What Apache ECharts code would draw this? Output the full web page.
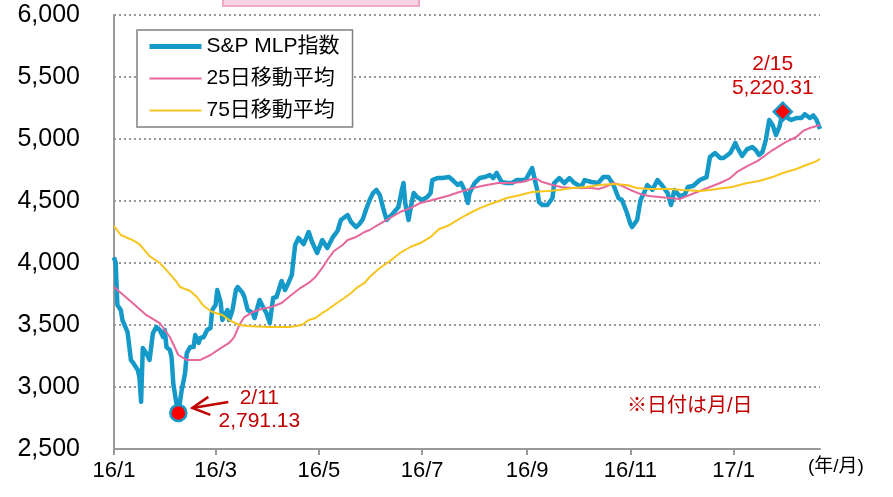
<!DOCTYPE html>
<html>
<head>
<meta charset="utf-8" />
<script type="text/javascript" src="https://cdn.jsdelivr.net/npm/echarts@6/dist/echarts.min.js"></script>
<title></title>
<style>
  html, body { margin: 0; padding: 0; background: #fff; }
  #chartmain { width: 893px; height: 497px; }
</style>
</head>
<body>
<div id="chartmain"></div>
<script type="text/javascript">
// S&P MLP指数 (daily close)
var mlpDates = [
  '2016-01-04','2016-01-05','2016-01-06','2016-01-08','2016-01-09','2016-01-12','2016-01-13','2016-01-14',
  '2016-01-15','2016-01-18','2016-01-19','2016-01-20','2016-01-21','2016-01-23','2016-01-25','2016-01-27',
  '2016-01-29','2016-01-31','2016-02-02','2016-02-03','2016-02-04','2016-02-06','2016-02-07','2016-02-08',
  '2016-02-10','2016-02-11','2016-02-13','2016-02-15','2016-02-16','2016-02-18','2016-02-20','2016-02-21',
  '2016-02-23','2016-02-24','2016-02-26','2016-02-28','2016-03-01','2016-03-02','2016-03-04','2016-03-05',
  '2016-03-07','2016-03-08','2016-03-11','2016-03-12','2016-03-14','2016-03-16','2016-03-17','2016-03-20',
  '2016-03-21','2016-03-23','2016-03-26','2016-03-27','2016-03-28','2016-03-30','2016-04-01','2016-04-03',
  '2016-04-05','2016-04-07','2016-04-09','2016-04-12','2016-04-14','2016-04-16','2016-04-18','2016-04-20',
  '2016-04-22','2016-04-25','2016-04-28','2016-04-30','2016-05-03','2016-05-06','2016-05-09','2016-05-12',
  '2016-05-15','2016-05-17','2016-05-21','2016-05-23','2016-05-26','2016-05-28','2016-05-30','2016-06-01',
  '2016-06-03','2016-06-05','2016-06-07','2016-06-09','2016-06-11','2016-06-13','2016-06-17','2016-06-20',
  '2016-06-22','2016-06-23','2016-06-24','2016-06-26','2016-06-27','2016-06-29','2016-07-01','2016-07-04',
  '2016-07-07','2016-07-09','2016-07-10','2016-07-13','2016-07-16','2016-07-17','2016-07-20','2016-07-22',
  '2016-07-25','2016-07-27','2016-07-29','2016-07-31','2016-08-01','2016-08-04','2016-08-07','2016-08-10',
  '2016-08-13','2016-08-15','2016-08-17','2016-08-20','2016-08-23','2016-08-26','2016-08-29','2016-09-03',
  '2016-09-04','2016-09-07','2016-09-09','2016-09-10','2016-09-11','2016-09-13','2016-09-16','2016-09-19',
  '2016-09-20','2016-09-23','2016-09-26','2016-09-29','2016-10-02','2016-10-06','2016-10-08','2016-10-12',
  '2016-10-16','2016-10-19','2016-10-22','2016-10-25','2016-10-28','2016-10-30','2016-11-02','2016-11-04',
  '2016-11-05','2016-11-08','2016-11-10','2016-11-12','2016-11-14','2016-11-17','2016-11-20','2016-11-23',
  '2016-11-26','2016-11-28','2016-11-30','2016-12-03','2016-12-06','2016-12-08','2016-12-11','2016-12-15',
  '2016-12-19','2016-12-21','2016-12-24','2016-12-27','2016-12-29','2017-01-02','2017-01-05','2017-01-06',
  '2017-01-09','2017-01-12','2017-01-15','2017-01-17','2017-01-19','2017-01-21','2017-01-23','2017-01-25',
  '2017-01-27','2017-01-29','2017-01-31','2017-02-02','2017-02-05','2017-02-07','2017-02-10','2017-02-13',
  '2017-02-15','2017-02-18','2017-02-20','2017-02-22','2017-02-24'
];
var mlpValues = [
  4045, 4000, 3661, 3621, 3540, 3443, 3435, 3218,
  3201, 3137, 3081, 2880, 3314, 3274, 3218, 3435,
  3484, 3460, 3403, 3460, 3322, 3298, 3242, 3032,
  2855, 2791.13, 2976, 3113, 3274, 3322, 3322, 3419,
  3355, 3395, 3403, 3460, 3476, 3621, 3661, 3782,
  3685, 3540, 3621, 3540, 3621, 3782, 3806, 3758,
  3726, 3621, 3597, 3556, 3565, 3702, 3645, 3597,
  3516, 3718, 3726, 3855, 3782, 3839, 3903, 4145,
  4202, 4153, 4250, 4169, 4081, 4185, 4121, 4202,
  4258, 4347, 4387, 4331, 4290, 4315, 4355, 4435,
  4508, 4564, 4589, 4548, 4443, 4347, 4403, 4452,
  4589, 4645, 4484, 4347, 4427, 4564, 4532, 4508,
  4532, 4564, 4669, 4685, 4685, 4693, 4693, 4669,
  4629, 4645, 4589, 4484, 4564, 4645, 4685, 4693,
  4710, 4685, 4726, 4653, 4645, 4645, 4669, 4669,
  4693, 4766, 4645, 4589, 4492, 4468, 4468, 4524,
  4645, 4685, 4645, 4685, 4645, 4613, 4669, 4653,
  4645, 4693, 4693, 4629, 4524, 4508, 4403, 4315,
  4290, 4347, 4508, 4564, 4629, 4589, 4669, 4621,
  4564, 4468, 4589, 4540, 4548, 4613, 4621, 4669,
  4693, 4855, 4887, 4847, 4847, 4887, 4968, 4935,
  4863, 4919, 4935, 4911, 4871, 4895, 4992, 5153,
  5113, 5032, 5097, 5220.31, 5169, 5153, 5169, 5169,
  5200, 5169, 5190, 5153, 5080
];

// 25日移動平均
var ma25Dates = [
  '2016-01-04','2016-01-15','2016-01-23','2016-01-31','2016-02-06','2016-02-11','2016-02-16','2016-02-24',
  '2016-03-01','2016-03-07','2016-03-12','2016-03-15','2016-03-18','2016-03-21','2016-03-26','2016-03-31',
  '2016-04-06','2016-04-12','2016-04-17','2016-04-23','2016-04-28','2016-05-02','2016-05-06','2016-05-09',
  '2016-05-13','2016-05-18','2016-05-21','2016-05-26','2016-05-31','2016-06-03','2016-06-09','2016-06-15',
  '2016-06-21','2016-06-27','2016-07-03','2016-07-10','2016-07-19','2016-07-26','2016-08-03','2016-08-11',
  '2016-08-18','2016-08-26','2016-09-01','2016-09-07','2016-09-10','2016-09-13','2016-09-19','2016-09-24',
  '2016-09-30','2016-10-06','2016-10-12','2016-10-16','2016-10-20','2016-10-25','2016-10-29','2016-11-04',
  '2016-11-10','2016-11-15','2016-11-21','2016-11-27','2016-12-03','2016-12-09','2016-12-15','2016-12-21',
  '2016-12-27','2017-01-02','2017-01-06','2017-01-12','2017-01-18','2017-01-23','2017-01-27','2017-01-29',
  '2017-02-04','2017-02-10','2017-02-14','2017-02-18','2017-02-24'
];
var ma25Values = [
  3806, 3677, 3581, 3516, 3403, 3258, 3218, 3218,
  3258, 3314, 3355, 3403, 3500, 3564, 3605, 3629,
  3645, 3677, 3734, 3798, 3839, 3887, 3960, 4024,
  4097, 4145, 4185, 4210, 4250, 4266, 4315, 4363,
  4411, 4443, 4484, 4508, 4540, 4573, 4605, 4629,
  4645, 4645, 4653, 4677, 4677, 4653, 4629, 4613,
  4605, 4605, 4605, 4597, 4613, 4645, 4629, 4589,
  4556, 4540, 4532, 4524, 4516, 4548, 4581, 4613,
  4645, 4685, 4734, 4782, 4822, 4871, 4911, 4927,
  4976, 5016, 5065, 5089, 5113
];

// 75日移動平均
var ma75Dates = [
  '2016-01-04','2016-01-08','2016-01-15','2016-01-19','2016-01-25','2016-01-31','2016-02-04','2016-02-10',
  '2016-02-12','2016-02-18','2016-02-22','2016-02-26','2016-03-02','2016-03-08','2016-03-12','2016-03-18',
  '2016-03-23','2016-04-04','2016-04-17','2016-04-24','2016-04-28','2016-05-02','2016-05-06','2016-05-09',
  '2016-05-13','2016-05-19','2016-05-23','2016-05-27','2016-05-31','2016-06-03','2016-06-09','2016-06-15',
  '2016-06-21','2016-06-27','2016-07-03','2016-07-09','2016-07-14','2016-07-19','2016-07-25','2016-07-30',
  '2016-08-07','2016-08-15','2016-08-23','2016-08-31','2016-09-07','2016-09-16','2016-09-23','2016-10-01',
  '2016-10-09','2016-10-17','2016-10-25','2016-11-02','2016-11-08','2016-11-15','2016-11-27','2016-12-05',
  '2016-12-15','2016-12-21','2016-12-29','2017-01-03','2017-01-12','2017-01-19','2017-01-27','2017-02-02',
  '2017-02-10','2017-02-16','2017-02-22','2017-02-24'
];
var ma75Values = [
  4298, 4226, 4185, 4153, 4056, 4000, 3943, 3847,
  3806, 3774, 3726, 3653, 3605, 3581, 3540, 3500,
  3492, 3484, 3484, 3500, 3540, 3556, 3597, 3621,
  3661, 3718, 3758, 3806, 3839, 3887, 3960, 4016,
  4081, 4129, 4161, 4210, 4274, 4298, 4347, 4387,
  4443, 4484, 4524, 4548, 4573, 4581, 4589, 4605,
  4613, 4629, 4637, 4629, 4605, 4597, 4597, 4589,
  4581, 4589, 4605, 4613, 4645, 4661, 4693, 4726,
  4758, 4790, 4822, 4839
];

// x axis: labels every two months from the first trading day
var tickDates = ['2016-01-04','2016-03-04','2016-05-04','2016-07-04','2016-09-04','2016-11-04','2017-01-04'];
var axisStart = '2016-01-04', axisEnd = '2017-02-24';
var noteDays = ['2/11', '2/15'];

var FONT = '"Liberation Sans", Arial, "Noto Sans CJK JP", sans-serif';
var BLUE = '#1499c8', PINK = '#e5679b', YELLOW = '#f7c51e', RED = '#c00000';

function ts(s) { return Date.parse(s + 'T00:00:00Z'); }
function pairs(d, v) {
  return d.map(function (x, i) { return [ts(x), v[i]]; });
}
function fmt(v) {
  return v.toLocaleString('en-US', { minimumFractionDigits: 2, maximumFractionDigits: 2 });
}

var iLow = 0, iHigh = 0;
mlpValues.forEach(function (v, i) {
  if (v < mlpValues[iLow]) iLow = i;
  if (v > mlpValues[iHigh]) iHigh = i;
});

// legend shows only the line, no symbol
var noMark = { color: 'rgba(0,0,0,0)', borderColor: 'rgba(0,0,0,0)', borderWidth: 0 };

var option = {
  animation: false,
  backgroundColor: '#fff',
  textStyle: { fontFamily: FONT },
  grid: { left: 114, right: 73, top: 15, bottom: 48, outerBoundsMode: 'none' },
  legend: {
    orient: 'vertical',
    left: 137,
    top: 30,
    padding: [6, 13, 6, 10],
    itemGap: 11,
    itemWidth: 52,
    itemHeight: 14,
    backgroundColor: '#fff',
    borderColor: '#808080',
    borderWidth: 1.5,
    textStyle: { fontSize: 21, color: '#000', fontFamily: FONT },
    data: [
      { name: 'S&P MLP指数', lineStyle: { width: 5, color: BLUE }, itemStyle: noMark },
      { name: '25日移動平均', lineStyle: { width: 2, color: PINK }, itemStyle: noMark },
      { name: '75日移動平均', lineStyle: { width: 2, color: YELLOW }, itemStyle: noMark }
    ]
  },
  xAxis: {
    type: 'value',
    min: ts(axisStart),
    max: ts(axisEnd),
    axisLine: { lineStyle: { color: '#999', width: 2 } },
    axisTick: { show: true, customValues: tickDates.map(ts), length: 6, lineStyle: { color: '#999', width: 2 } },
    axisLabel: {
      customValues: tickDates.map(ts),
      fontSize: 22,
      color: '#000',
      margin: 11,
      formatter: function (v) {
        var d = new Date(v);
        return (d.getUTCFullYear() % 100) + '/' + (d.getUTCMonth() + 1);
      }
    },
    splitLine: { show: false }
  },
  yAxis: {
    type: 'value',
    min: 2500,
    max: 6000,
    interval: 500,
    axisLine: { show: true, lineStyle: { color: '#999', width: 2 } },
    axisTick: { show: false },
    axisLabel: {
      fontSize: 25,
      color: '#000',
      margin: 34,
      formatter: function (v) { return v.toLocaleString('en-US'); }
    },
    splitLine: { lineStyle: { color: '#9a9a9a', width: 2, type: [2, 3] } }
  },
  series: [
    {
      name: 'S&P MLP指数',
      type: 'line',
      symbol: 'none',
      data: pairs(mlpDates, mlpValues),
      lineStyle: { color: BLUE, width: 4.5, join: 'round' },
      itemStyle: { color: BLUE },
      markPoint: {
        data: [
          {
            coord: [ts(mlpDates[iLow]), mlpValues[iLow]],
            symbol: 'circle',
            symbolSize: 16,
            itemStyle: { color: '#ff0000', borderColor: BLUE, borderWidth: 2.5 },
            label: {
              show: true,
              position: 'inside',
              offset: [81, -3],
              align: 'center',
              fontSize: 21,
              lineHeight: 23,
              color: RED,
              formatter: noteDays[0] + '\n' + fmt(mlpValues[iLow])
            }
          },
          {
            coord: [ts(mlpDates[iHigh]), mlpValues[iHigh]],
            symbol: 'diamond',
            symbolSize: [18, 18],
            itemStyle: { color: '#ff0000', borderColor: BLUE, borderWidth: 2.5 },
            label: {
              show: true,
              position: 'inside',
              offset: [-10, -35],
              align: 'center',
              fontSize: 21,
              lineHeight: 24,
              color: '#d00000',
              formatter: noteDays[1] + '\n' + fmt(mlpValues[iHigh])
            }
          }
        ]
      }
    },
    {
      name: '25日移動平均',
      type: 'line',
      symbol: 'none',
      data: pairs(ma25Dates, ma25Values),
      lineStyle: { color: PINK, width: 2 },
      itemStyle: { color: PINK }
    },
    {
      name: '75日移動平均',
      type: 'line',
      symbol: 'none',
      data: pairs(ma75Dates, ma75Values),
      lineStyle: { color: YELLOW, width: 2 },
      itemStyle: { color: YELLOW }
    }
  ],
  graphic: [
    {
      id: 'titleEdge',
      type: 'rect',
      left: 222,
      top: -20,
      shape: { width: 196, height: 25 },
      style: { fill: '#f9d3e2', stroke: '#f0a8c6', lineWidth: 2 }
    },
    {
      id: 'dateNote',
      type: 'text',
      left: 627,
      top: 396,
      style: { text: '※日付は月/日', fill: RED, font: '20px ' + FONT }
    },
    {
      id: 'unitNote',
      type: 'text',
      left: 808,
      top: 457,
      style: { text: '(年/月)', fill: '#000', font: '19px ' + FONT }
    }
  ]
};

var myChart = echarts.init(document.getElementById('chartmain'));
myChart.setOption(option);

// arrow pointing at the low, placed from the point's pixel position
var p = myChart.convertToPixel({ seriesIndex: 0 }, [ts(mlpDates[iLow]), mlpValues[iLow]]);
myChart.setOption({
  graphic: [
    {
      id: 'arrowShaft',
      type: 'polyline',
      shape: { points: [[p[0] + 50, p[1] - 11], [p[0] + 14, p[1] - 5]] },
      style: { stroke: RED, lineWidth: 2.5, fill: null }
    },
    {
      id: 'arrowHead',
      type: 'polyline',
      shape: { points: [[p[0] + 30, p[1] - 16], [p[0] + 14, p[1] - 5], [p[0] + 32, p[1] + 2]] },
      style: { stroke: RED, lineWidth: 2.5, fill: null }
    }
  ]
});

window.addEventListener('resize', function () {
  myChart.resize();
});
</script>
</body>
</html>
